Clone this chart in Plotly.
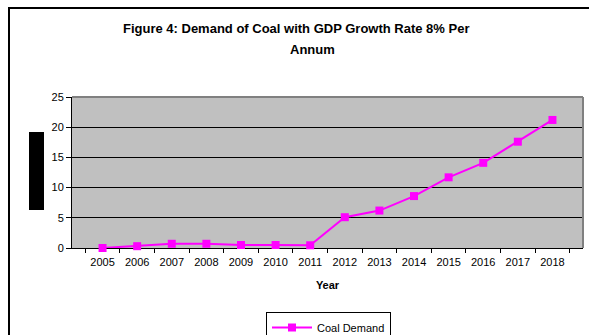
import plotly.graph_objects as go

years = ["2005", "2006", "2007", "2008", "2009", "2010", "2011",
         "2012", "2013", "2014", "2015", "2016", "2017", "2018"]
coal_demand = [0.0, 0.3, 0.7, 0.7, 0.5, 0.5, 0.45,
               5.1, 6.2, 8.6, 11.7, 14.1, 17.6, 21.2]
y_ticks = [0, 5, 10, 15, 20, 25]

W, H = 589, 335
L, R, T, B = 72, 6, 97, 87
PW = W - L - R
PH = H - T - B


def px_x(x):
    return (x - L) / PW


def px_y(y):
    return (H - B - y) / PH


fig = go.Figure()
fig.add_trace(go.Scatter(
    x=years, y=coal_demand, mode="lines+markers", name="Coal Demand",
    line=dict(color="#FF00FF", width=2),
    marker=dict(symbol="square", size=8, color="#FF00FF"),
    cliponaxis=False,
))

font = "Arial, Liberation Sans, sans-serif"

fig.update_layout(
    width=W, height=H,
    margin=dict(l=L, r=R, t=T, b=B, autoexpand=False),
    paper_bgcolor="white",
    plot_bgcolor="#C0C0C0",
    font=dict(family=font, size=11, color="black"),
    showlegend=True,
    legend=dict(
        xref="container", yref="container",
        x=266 / W, y=1 - 312 / H, xanchor="left", yanchor="top",
        bordercolor="black", borderwidth=1, bgcolor="white",
        font=dict(size=11, family=font),
        itemwidth=40,
    ),
    xaxis=dict(
        type="category", tickson="boundaries", ticks="outside", ticklen=4,
        tickcolor="black", showline=True, linecolor="black", linewidth=1,
        showgrid=False, zeroline=False, layer="below traces",
        ticklabelstandoff=4,
        tickfont=dict(size=11, family=font),
        title=dict(text="<b>Year</b>", font=dict(size=11, family=font), standoff=14),
    ),
    yaxis=dict(
        range=[0, 25], tickvals=y_ticks, ticks="outside", ticklen=5,
        tickcolor="black", showline=True, linecolor="black", linewidth=1,
        showgrid=True, gridcolor="black", gridwidth=1, zeroline=False,
        layer="below traces",
        tickfont=dict(size=11, family=font),
    ),
    shapes=[
        dict(type="rect", xref="paper", yref="paper",
             x0=px_x(9), x1=px_x(W + 20), y0=px_y(H + 20), y1=px_y(8),
             line=dict(color="black", width=2), fillcolor="rgba(0,0,0,0)",
             layer="below"),
        dict(type="line", xref="paper", yref="paper",
             x0=0, x1=1, y0=1, y1=1,
             line=dict(color="#808080", width=2)),
        dict(type="line", xref="paper", yref="paper",
             x0=1, x1=1, y0=0, y1=1,
             line=dict(color="#808080", width=2)),
        dict(type="rect", xref="paper", yref="paper",
             x0=px_x(29), x1=px_x(44), y0=px_y(210), y1=px_y(132),
             line=dict(width=0), fillcolor="black"),
    ],
    annotations=[
        dict(text="<b>Figure 4: Demand of Coal with GDP Growth Rate 8% Per</b>",
             xref="paper", yref="paper", x=px_x(296), y=px_y(29),
             xanchor="center", yanchor="middle", showarrow=False,
             font=dict(size=13, family=font, color="black")),
        dict(text="<b>Annum</b>",
             xref="paper", yref="paper", x=px_x(312), y=px_y(50),
             xanchor="center", yanchor="middle", showarrow=False,
             font=dict(size=13, family=font, color="black")),
    ],
)

fig.write_html("out.html")
